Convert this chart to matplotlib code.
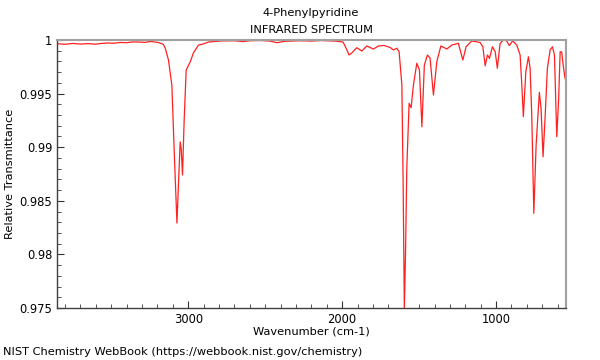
import matplotlib
matplotlib.use("Agg")
import matplotlib.pyplot as plt
from matplotlib.ticker import MultipleLocator, FuncFormatter

wavenumber = [3851, 3800, 3750, 3701, 3650, 3600, 3571, 3520, 3480, 3442, 3400, 3360,
              3312, 3280, 3247, 3220, 3195, 3162, 3149, 3128, 3106, 3091, 3073, 3062,
              3052, 3045, 3037, 3026, 3013, 3000, 2987, 2966, 2933, 2903, 2868, 2792,
              2700, 2643, 2600, 2532, 2470, 2424, 2370, 2273, 2200, 2143, 2045, 1994,
              1969, 1955, 1937, 1905, 1872, 1840, 1797, 1764, 1727, 1688, 1667, 1645,
              1630, 1612, 1604, 1596, 1588, 1580, 1565, 1552, 1537, 1515, 1498, 1482,
              1466, 1446, 1429, 1407, 1385, 1359, 1320, 1288, 1245, 1216, 1195, 1158,
              1104, 1086, 1071, 1056, 1043, 1024, 1006, 992, 974, 953, 932, 914,
              892, 866, 844, 833, 823, 807, 790, 779, 768, 755, 740, 719,
              708, 695, 682, 667, 649, 634, 621, 606, 594, 584, 574, 563,
              552, 545]
transmittance = [0.99965, 0.99960, 0.99968, 0.99962, 0.99966, 0.99961, 0.99967, 0.99972, 0.99970, 0.99977, 0.99975, 0.99982,
                 0.99981, 0.99978, 0.99986, 0.99982, 0.99977, 0.99960, 0.99925, 0.99813, 0.99580, 0.98974, 0.98293, 0.98690,
                 0.99049, 0.98980, 0.98741, 0.99254, 0.99720, 0.99757, 0.99795, 0.99879, 0.99953, 0.99963, 0.99981, 0.99991,
                 0.99993, 0.99985, 0.99993, 0.99995, 0.99990, 0.99975, 0.99988, 0.99993, 0.99990, 0.99995, 0.99990, 0.99981,
                 0.99907, 0.99860, 0.99879, 0.99928, 0.99897, 0.99944, 0.99916, 0.99944, 0.99949, 0.99930, 0.99907, 0.99923,
                 0.99891, 0.99580, 0.98690, 0.97480, 0.98040, 0.98806, 0.99410, 0.99368, 0.99580, 0.99783, 0.99720, 0.99191,
                 0.99767, 0.99860, 0.99832, 0.99487, 0.99798, 0.99944, 0.99916, 0.99953, 0.99969, 0.99813, 0.99937, 0.99991,
                 0.99977, 0.99937, 0.99760, 0.99860, 0.99829, 0.99937, 0.99891, 0.99736, 0.99969, 1.00000, 0.99993, 0.99947,
                 0.99993, 0.99953, 0.99860, 0.99580, 0.99285, 0.99704, 0.99844, 0.99736, 0.99272, 0.98383, 0.99021, 0.99512,
                 0.99363, 0.98911, 0.99270, 0.99736, 0.99907, 0.99937, 0.99860, 0.99098, 0.99440, 0.99891, 0.99888, 0.99751,
                 0.99643, 0.99620]

yticks = [0.975, 0.98, 0.985, 0.99, 0.995, 1.0]
xticks = [3000, 2000, 1000]

fig = plt.figure(figsize=(6, 3.6), dpi=100)
ax = fig.add_axes([57/600, 1 - 308/360, (566-57)/600, (308-40)/360])
ax.plot(wavenumber, transmittance, color="#ff2020", lw=0.9)
ax.set_xlim(3852, 546)
ax.set_ylim(0.975, 1.0)
ax.set_xticks(xticks)
ax.set_yticks(yticks)
ax.xaxis.set_minor_locator(MultipleLocator(100))
ax.yaxis.set_minor_locator(MultipleLocator(0.001))
ax.yaxis.set_major_formatter(FuncFormatter(lambda v, p: "%g" % round(v, 4)))
ax.tick_params(which="both", direction="in", top=False, right=False, labelsize=8.3, colors="#333333", labelcolor="black")
ax.tick_params(which="major", length=5)
ax.tick_params(which="minor", length=3)
for s in ["top", "right"]:
    ax.spines[s].set_color("#a0a0a0")
    ax.spines[s].set_linewidth(1.5)
for s in ["left", "bottom"]:
    ax.spines[s].set_color("#404040")
    ax.spines[s].set_linewidth(1.0)

ax.set_xlabel("Wavenumber (cm-1)", fontsize=8.2, labelpad=0.5)
ax.set_ylabel("Relative Transmittance", fontsize=8.2, labelpad=3)
fig.text(311/600, 1 - 13/360, "4-Phenylpyridine", ha="center", va="center", fontsize=8.2)
fig.text(311/600, 1 - 30/360, "INFRARED SPECTRUM", ha="center", va="center", fontsize=8.2)
fig.text(3/600, 1 - 352/360, "NIST Chemistry WebBook (https://webbook.nist.gov/chemistry)",
         ha="left", va="center", fontsize=8.2)

fig.savefig("out.png", dpi=100)
